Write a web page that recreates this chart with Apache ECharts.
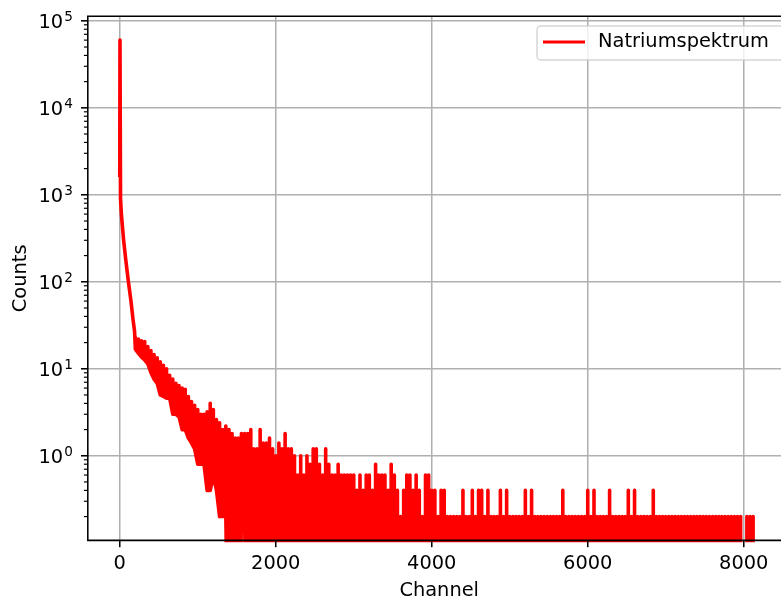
<!DOCTYPE html>
<html><head><meta charset="utf-8">
<script src="https://cdn.jsdelivr.net/npm/echarts@6/dist/echarts.min.js"></script>
<style>html,body{margin:0;padding:0;background:#fff}#c{width:781px;height:597px}</style>
</head><body><div id="c"></div>
<script>
// ---------- data ----------
// steep head of the spectrum (channel, counts)
const headChannels = [0, 3, 10, 20, 30, 50, 77, 111, 143, 170, 190];
const headCounts   = [1600, 60000, 900, 620, 480, 300, 180, 100, 61, 37, 27];

// noisy part: bins of 40 channels starting at channel 200, max / min count inside each bin
const binStartChannel = 200;
const binWidthChannels = 40;
const binUpper = [
  23, 22, 21, 20.6, 18, 16.2, 14.6, 13.4, 12, 11,
  10, 8.4, 7.6, 6.8, 6.4, 6, 5.8, 4.8, 4.2, 3.8,
  3.4, 3, 3, 3.2, 4, 3.4, 2.6, 2.4, 2, 2.2,
  2, 1.8, 1.6, 1.6, 1.8, 1.8, 1.8, 2, 1.2, 1.2,
  2, 1.4, 1.4, 1.6, 1.2, 1, 1.4, 1.2, 1.8, 1.2,
  1.2, 1, 0.6, 1, 0.6, 1, 0.8, 1.2, 1.2, 0.8,
  0.6, 1.2, 0.8, 0.6, 0.6, 0.8, 0.6, 0.6, 0.6, 0.6,
  0.6, 0.4, 0.6, 0.4, 0.6, 0.6, 0.4, 0.8, 0.6, 0.6,
  0.6, 0.4, 0.8, 0.6, 0.4, 0.2, 0.4, 0.6, 0.6, 0.4,
  0.6, 0.4, 0.2, 0.6, 0.6, 0.4, 0.4, 0.2, 0.4, 0.4,
  0.2, 0.2, 0.2, 0.2, 0.2, 0.4, 0.2, 0.2, 0.4, 0.2,
  0.4, 0.4, 0.2, 0.4, 0.2, 0.2, 0.2, 0.4, 0.2, 0.4,
  0.2, 0.2, 0.2, 0.2, 0.2, 0.4, 0.2, 0.4, 0.2, 0.2,
  0.2, 0.2, 0.2, 0.2, 0.2, 0.2, 0.2, 0.4, 0.2, 0.2,
  0.2, 0.2, 0.2, 0.2, 0.2, 0.4, 0.2, 0.4, 0.2, 0.2,
  0.2, 0.2, 0.4, 0.2, 0.2, 0.2, 0.2, 0.2, 0.4, 0.2,
  0.4, 0.2, 0.2, 0.2, 0.2, 0.2, 0.4, 0.2, 0.2, 0.2,
  0.2, 0.2, 0.2, 0.2, 0.2, 0.2, 0.2, 0.2, 0.2, 0.2,
  0.2, 0.2, 0.2, 0.2, 0.2, 0.2, 0.2, 0.2, 0.2, 0.2,
  0.2, 0.2, 0.2, 0.2, 0.2, 0, 0.2, 0.2, 0.2, 0
];
const binLower = [
  16.8, 15, 13.6, 12.6, 11.4, 9, 7.6, 6.8, 5, 4.8,
  4.6, 4.6, 3, 3, 2.8, 2, 2, 1.6, 1.4, 1.2,
  0.8, 0.8, 0.8, 0.4, 0.4, 0.6, 0.4, 0.2, 0.2, 0.2,
  0, 0, 0.4, 0, 0.2, 0.2, 0, 0, 0.2, 0,
  0, 0.2, 0, 0.2, 0, 0, 0, 0, 0, 0,
  0, 0, 0, 0, 0, 0, 0, 0, 0, 0,
  0, 0, 0, 0, 0, 0, 0, 0, 0, 0,
  0, 0, 0, 0, 0, 0, 0, 0, 0, 0,
  0, 0, 0, 0, 0, 0, 0, 0, 0, 0,
  0, 0, 0, 0, 0, 0, 0, 0, 0, 0,
  0, 0, 0, 0, 0, 0, 0, 0, 0, 0,
  0, 0, 0, 0, 0, 0, 0, 0, 0, 0,
  0, 0, 0, 0, 0, 0, 0, 0, 0, 0,
  0, 0, 0, 0, 0, 0, 0, 0, 0, 0,
  0, 0, 0, 0, 0, 0, 0, 0, 0, 0,
  0, 0, 0, 0, 0, 0, 0, 0, 0, 0,
  0, 0, 0, 0, 0, 0, 0, 0, 0, 0,
  0, 0, 0, 0, 0, 0, 0, 0, 0, 0,
  0, 0, 0, 0, 0, 0, 0, 0, 0, 0,
  0, 0, 0, 0, 0, 0, 0, 0, 0, 0
];

// axes
const xRange = [-409.55, 8600.55];
const yRange = [0.10643, 112720];
const xTickValues = [0, 2000, 4000, 6000, 8000];
const yTickValues = [1, 10, 100, 1000, 10000, 100000];
const seriesName = 'Natriumspektrum';

// ---------- build ----------
const FONT = 'DejaVu Sans';
const FS = 19.4;
// zero counts cannot sit on a log axis: like matplotlib, send them below the axis (clipped)
const BELOW = 1e-3;
const pos = v => (v > 0 ? v : BELOW);

const lineData = [];
headChannels.forEach((c, i) => lineData.push([c, pos(headCounts[i])]));
binUpper.forEach((hi, k) => {
  const c = binStartChannel + k * binWidthChannels;
  const lo = binLower[k];
  lineData.push([c, pos(lo)]);
  if (hi !== lo) { lineData.push([c, pos(hi)]); lineData.push([c, pos(lo)]); }
});

const minorTickValues = [];
for (let e = -1; e <= 4; e++) {
  for (let m = 2; m <= 9; m++) {
    const v = m * Math.pow(10, e);
    if (v >= yRange[0] && v <= yRange[1]) minorTickValues.push(v);
  }
}

function segSeries(items, z, stroke, width, build) {
  return {
    type: 'custom', silent: true, clip: false, z: z, animation: false,
    data: items,
    renderItem: (params, api) => {
      const s = build(api);
      return { type: 'line', shape: s, style: { stroke: stroke, lineWidth: width } };
    }
  };
}

const series = [
  // vertical grid lines
  segSeries(xTickValues.map(v => [v, yRange[0], v, yRange[1]]), 1, '#b0b0b0', 1.55, api => {
    const a = api.coord([api.value(0), api.value(1)]);
    const b = api.coord([api.value(2), api.value(3)]);
    return { x1: a[0], y1: a[1], x2: b[0], y2: b[1] };
  }),
  // horizontal grid lines
  segSeries(yTickValues.map(v => [xRange[0], v, xRange[1], v]), 1, '#b0b0b0', 1.55, api => {
    const a = api.coord([api.value(0), api.value(1)]);
    const b = api.coord([api.value(2), api.value(3)]);
    return { x1: a[0], y1: a[1], x2: b[0], y2: b[1] };
  }),
  {
    type: 'line', name: seriesName, data: lineData,
    showSymbol: false, symbol: 'none', z: 2, clip: true, animation: false,
    lineStyle: { color: '#ff0000', width: 3.6, join: 'round' },
    itemStyle: { color: '#ff0000' }
  },
  // x major ticks
  segSeries(xTickValues.map(v => [v, yRange[0]]), 6, '#000', 1.55, api => {
    const p = api.coord([api.value(0), api.value(1)]);
    return { x1: p[0], y1: p[1], x2: p[0], y2: p[1] + 6.8 };
  }),
  // y major ticks
  segSeries(yTickValues.map(v => [xRange[0], v]), 6, '#000', 1.55, api => {
    const p = api.coord([api.value(0), api.value(1)]);
    return { x1: p[0] - 6.8, y1: p[1], x2: p[0], y2: p[1] };
  }),
  // y minor ticks
  segSeries(minorTickValues.map(v => [xRange[0], v]), 6, '#000', 1.17, api => {
    const p = api.coord([api.value(0), api.value(1)]);
    return { x1: p[0] - 3.9, y1: p[1], x2: p[0], y2: p[1] };
  }),
  // frame (spines)
  {
    type: 'custom', silent: true, clip: false, z: 7, animation: false,
    data: [[xRange[0], yRange[0], xRange[1], yRange[1]]],
    renderItem: (params, api) => {
      const a = api.coord([api.value(0), api.value(1)]);
      const b = api.coord([api.value(2), api.value(3)]);
      return { type: 'rect', shape: { x: a[0], y: b[1], width: b[0] - a[0], height: a[1] - b[1] },
               style: { fill: 'none', stroke: '#000', lineWidth: 1.55 } };
    }
  }
];

const chart = echarts.init(document.getElementById('c'), null, { renderer: 'canvas', width: 781, height: 597 });
chart.setOption({
  animation: false,
  backgroundColor: '#ffffff',
  textStyle: { fontFamily: FONT },
  grid: { left: 87.8, top: 16.3, right: -9.6, bottom: 56.6, outerBoundsMode: 'none', containLabel: false },
  legend: {
    data: [seriesName], left: 537, top: 26, orient: 'horizontal',
    padding: [6, 30, 8, 6],
    backgroundColor: 'rgba(255,255,255,0.8)', borderColor: 'rgba(204,204,204,0.8)',
    borderWidth: 1.5, borderRadius: 4,
    itemWidth: 42, itemHeight: 3, icon: 'rect', selectedMode: false,
    textStyle: { fontSize: FS, fontFamily: FONT, color: '#000', lineHeight: 20, padding: [0, 0, 0, 8] }
  },
  xAxis: {
    type: 'value', min: xRange[0], max: xRange[1],
    name: 'Channel', nameLocation: 'middle', nameGap: 41, nameMoveOverlap: false,
    nameTextStyle: { fontSize: FS, fontFamily: FONT, color: '#000' },
    axisLine: { show: false }, axisTick: { show: false }, splitLine: { show: false },
    axisLabel: {
      showMinLabel: false, showMaxLabel: false, margin: 14,
      fontSize: FS, fontFamily: FONT, color: '#000',
      formatter: v => (xTickValues.indexOf(Math.round(v)) >= 0 && Math.abs(v - Math.round(v)) < 1e-6 ? String(Math.round(v)) : '')
    }
  },
  yAxis: {
    type: 'log', logBase: 10, min: yRange[0], max: yRange[1],
    name: 'Counts', nameLocation: 'middle', nameGap: 57, nameMoveOverlap: false,
    nameTextStyle: { fontSize: FS, fontFamily: FONT, color: '#000' },
    axisLine: { show: false }, axisTick: { show: false }, splitLine: { show: false },
    axisLabel: {
      showMinLabel: false, showMaxLabel: false, margin: 15,
      color: '#000', fontFamily: FONT,
      formatter: v => {
        const e = Math.log10(v), r = Math.round(e);
        if (Math.abs(e - r) > 1e-6) return '';
        return '{b|10}{s|' + r + '}';
      },
      rich: {
        b: { fontSize: FS, fontFamily: FONT, color: '#000', lineHeight: 19.4, padding: [4.6, 0, 0, 0] },
        s: { fontSize: 13.6, fontFamily: FONT, color: '#000', lineHeight: 14, padding: [1.4, 0, 8.6, 1] }
      }
    }
  },
  series: series
});
</script>
</body></html>
